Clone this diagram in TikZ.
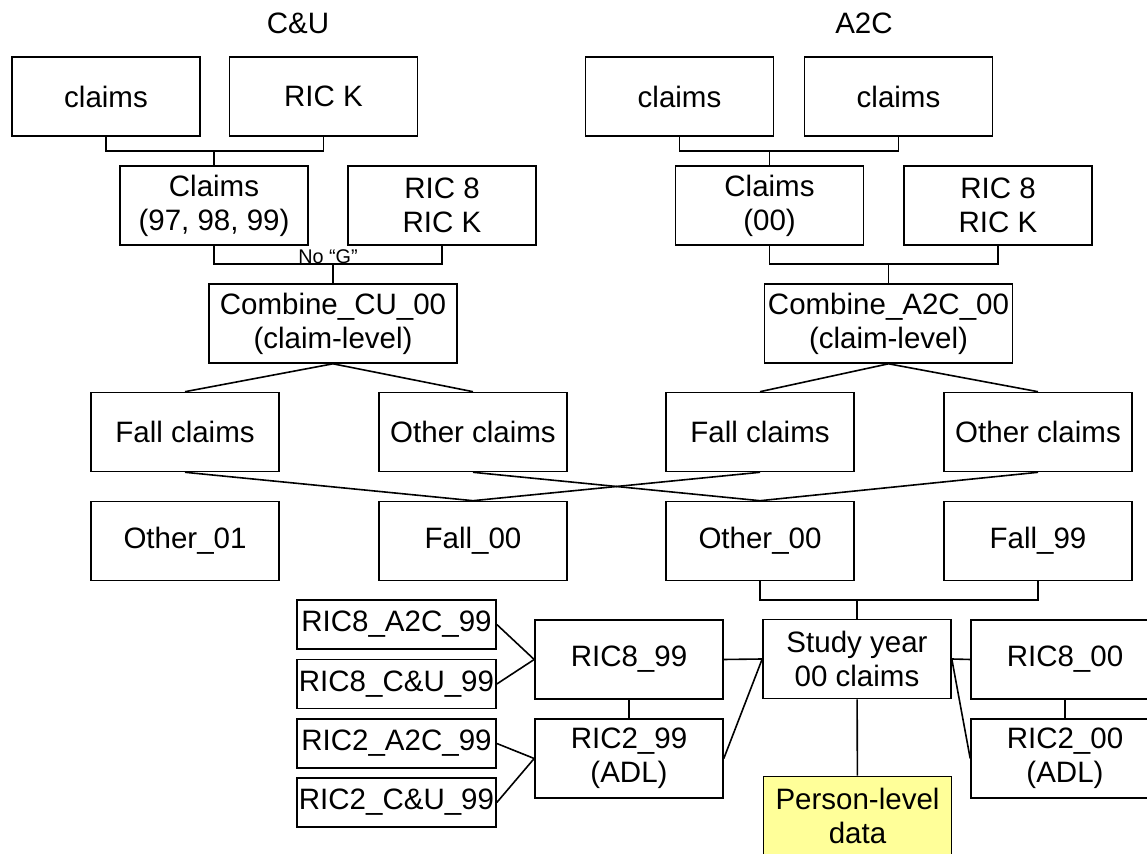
\documentclass[tikz,border=0pt]{standalone}
\usepackage{fontspec}
\setmainfont{Liberation Sans}
\begin{document}
\begin{tikzpicture}[x=0.5pt, y=-0.5pt, line width=0.8pt,
  font=\fontsize{14.75}{17}\selectfont,
  bx/.style={draw, minimum width=94pt, minimum height=39.5pt, align=center, inner sep=1pt},
  wbx/.style={bx, minimum width=124pt},
  sbx/.style={draw, minimum width=99.5pt, minimum height=24.5pt, inner sep=0.5pt},
  nl/.style={font=\fontsize{9.9}{11}\selectfont, inner sep=0pt}]
\path[use as bounding box] (0,0) rectangle (1147,854);
\clip (0,0) rectangle (1147,854);
\node (cut) at (298,23) {C\&U};
\node (act) at (864,23) {A2C};
\node[bx] (cua) at (106,96.5) {claims};
\node[bx] (cuk) at (323.5,96.5) {RIC K};
\node[bx] (aca) at (679.5,96.5) {claims};
\node[bx] (acb) at (898.5,96.5) {claims};
\node[bx] (cuc) at (214,205.5) {Claims\\(97, 98, 99)};
\node[bx] (cur) at (442,205.5) {RIC 8\\RIC K};
\node[bx] (acc) at (769.5,205.5) {Claims\\(00)};
\node[bx] (acr) at (998,205.5) {RIC 8\\RIC K};
\node[wbx] (cub) at (333,323.5) {Combine\_CU\_00\\(claim-level)};
\node[wbx] (acm) at (888.5,323.5) {Combine\_A2C\_00\\(claim-level)};
\node[bx] (fl1) at (185,432) {Fall claims};
\node[bx] (ot1) at (473,432) {Other claims};
\node[bx] (fl2) at (760,432) {Fall claims};
\node[bx] (ot2) at (1038,432) {Other claims};
\node[bx] (o01) at (185,541) {Other\_01};
\node[bx] (f00) at (473,541) {Fall\_00};
\node[bx] (o00) at (760,541) {Other\_00};
\node[bx] (f99) at (1038,541) {Fall\_99};
\node[bx] (sy) at (857,659) {Study year\\00 claims};
\node[bx] (r899) at (629,659.5) {RIC8\_99};
\node[bx] (r299) at (629,758.5) {RIC2\_99\\(ADL)};
\node[bx] (r800) at (1065,659.5) {RIC8\_00};
\node[bx] (r200) at (1065,758.5) {RIC2\_00\\(ADL)};
\node[bx, fill={rgb,255:red,255;green,255;blue,153}] (pl) at (857.5,816) {Person-level\\data};
\node[sbx] (r8a) at (396.5,624.5) {RIC8\_A2C\_99};
\node[sbx] (r8c) at (396.5,684) {RIC8\_C\&U\_99};
\node[sbx] (r2a) at (396.5,743.5) {RIC2\_A2C\_99};
\node[sbx] (r2c) at (396.5,802.5) {RIC2\_C\&U\_99};
\coordinate (j1) at (214,151);
\coordinate (j2) at (333,264);
\coordinate (j3) at (769.5,151);
\coordinate (j4) at (888.5,264);
\coordinate (j5) at (857,600);
\draw (cua.south) |- (j1) -| (cuk.south);
\draw (j1) -- (cuc.north);
\draw (cuc.south) |- (j2) -| (cur.south);
\draw (j2) -- (cub.north);
\node[nl, anchor=base] (nog) at (328,264) {No “G”};
\draw (aca.south) |- (j3) -| (acb.south);
\draw (j3) -- (acc.north);
\draw (acc.south) |- (j4) -| (acr.south);
\draw (j4) -- (acm.north);
\draw (cub.south) -- (fl1.north);
\draw (cub.south) -- (ot1.north);
\draw (acm.south) -- (fl2.north);
\draw (acm.south) -- (ot2.north);
\draw (fl1.south) -- (f00.north);
\draw (fl2.south) -- (f00.north);
\draw (ot1.south) -- (o00.north);
\draw (ot2.south) -- (o00.north);
\draw (o00.south) |- (j5) -| (f99.south);
\draw (j5) -- (sy.north);
\draw (r8a.east) -- (r899.west);
\draw (r8c.east) -- (r899.west);
\draw (r2a.east) -- (r299.west);
\draw (r2c.east) -- (r299.west);
\draw (r899) -- (r299);
\draw (r899.east) -- (sy.west);
\draw (r299.east) -- (sy.west);
\draw (sy.east) -- (r800.west);
\draw (sy.east) -- (r200.west);
\draw (r800) -- (r200);
\draw (sy) -- (pl);
\end{tikzpicture}
\end{document}
